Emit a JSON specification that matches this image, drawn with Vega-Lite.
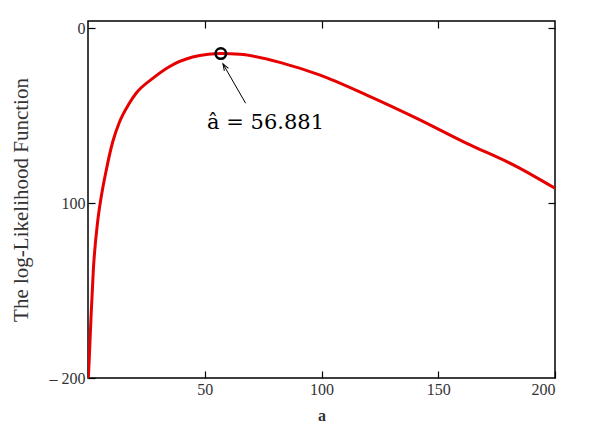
{
  "$schema": "https://vega.github.io/schema/vega-lite/v6.json",
  "autosize": "none",
  "width": 467,
  "height": 357,
  "padding": {"left": 88, "top": 21, "right": 37, "bottom": 63},
  "background": "white",
  "config": {
    "view": {"stroke": "#000", "strokeWidth": 1.5},
    "axis": {
      "domain": false,
      "grid": false,
      "tickColor": "#000",
      "tickWidth": 1.2,
      "tickSize": -7,
      "labelFont": "Liberation Serif",
      "labelFontSize": 16,
      "labelColor": "#333",
      "titleFont": "Liberation Serif",
      "titleColor": "#333",
      "titleFontWeight": "normal"
    }
  },
  "datasets": {
    "curve": [
      {"a": 0.15, "L": -200},
      {"a": 0.57, "L": -188},
      {"a": 1.3, "L": -165},
      {"a": 2.3, "L": -138},
      {"a": 4.1, "L": -111},
      {"a": 5.6, "L": -97},
      {"a": 7.7, "L": -82},
      {"a": 10.6, "L": -65},
      {"a": 13.4, "L": -54},
      {"a": 17.7, "L": -43},
      {"a": 20.6, "L": -37.3},
      {"a": 27.7, "L": -28.8},
      {"a": 34.8, "L": -22.1},
      {"a": 44.8, "L": -16.6},
      {"a": 51.5, "L": -15.0},
      {"a": 56.881, "L": -14.6},
      {"a": 65.0, "L": -15.0},
      {"a": 83.6, "L": -20.2},
      {"a": 99.4, "L": -26.9},
      {"a": 119.4, "L": -38.3},
      {"a": 140.8, "L": -51.6},
      {"a": 162.2, "L": -65.9},
      {"a": 183.6, "L": -79.2},
      {"a": 200, "L": -91.6}
    ],
    "mle": [{"a": 56.881, "L": -14.6}],
    "arrow": [{"a": 67.5, "L": -43, "a2": 57.8, "L2": -20.5}],
    "label": [{"a": 51.0, "L": -54, "text": "â = 56.881"}]
  },
  "layer": [
    {
      "data": {"name": "curve"},
      "mark": {"type": "line", "color": "#e60000", "strokeWidth": 3, "interpolate": "monotone", "clip": true},
      "encoding": {
        "x": {"field": "a", "type": "quantitative", "scale": {"domain": [0, 200], "nice": false},
          "axis": {"orient": "bottom", "values": [50, 100, 150, 200], "title": "a", "titleFontSize": 16, "titleFontWeight": "bold", "titlePadding": 10, "labelPadding": 10}},
        "y": {"field": "L", "type": "quantitative", "scale": {"domain": [-200, 4], "nice": false, "zero": false},
          "axis": {"orient": "left", "values": [0, -100, -200], "title": "The log-Likelihood Function", "titleFontSize": 21, "titlePadding": 18, "labelPadding": 10,
            "labelExpr": "datum.value == 0 ? '0' : (datum.value == -100 ? '100' : '– 200')"}}
      }
    },
    {
      "data": {"name": "mle"},
      "mark": {"type": "point", "shape": "circle", "filled": false, "stroke": "#000", "strokeWidth": 2.5, "size": 110, "opacity": 1},
      "encoding": {
        "x": {"field": "a", "type": "quantitative", "axis": {"orient": "top", "values": [50, 100, 150], "labels": false, "title": null}},
        "y": {"field": "L", "type": "quantitative", "axis": {"orient": "right", "values": [0, -100], "labels": false, "title": null}}
      }
    },
    {
      "data": {"name": "arrow"},
      "mark": {"type": "rule", "color": "#000", "strokeWidth": 1},
      "encoding": {
        "x": {"field": "a", "type": "quantitative", "axis": null},
        "y": {"field": "L", "type": "quantitative", "axis": null},
        "x2": {"field": "a2"},
        "y2": {"field": "L2"}
      }
    },
    {
      "data": {"name": "arrow"},
      "mark": {"type": "point", "shape": "M-0.5,1.4 L0,0 L0.5,1.4", "filled": false, "stroke": "#000", "strokeWidth": 1, "size": 90, "angle": 329, "opacity": 1},
      "encoding": {
        "x": {"field": "a2", "type": "quantitative", "axis": null},
        "y": {"field": "L2", "type": "quantitative", "axis": null}
      }
    },
    {
      "data": {"name": "label"},
      "mark": {"type": "text", "font": "DejaVu Serif", "fontSize": 21, "align": "left", "baseline": "middle", "color": "#000"},
      "encoding": {
        "x": {"field": "a", "type": "quantitative", "axis": null},
        "y": {"field": "L", "type": "quantitative", "axis": null},
        "text": {"field": "text"}
      }
    }
  ],
  "resolve": {"axis": {"x": "independent", "y": "independent"}}
}
